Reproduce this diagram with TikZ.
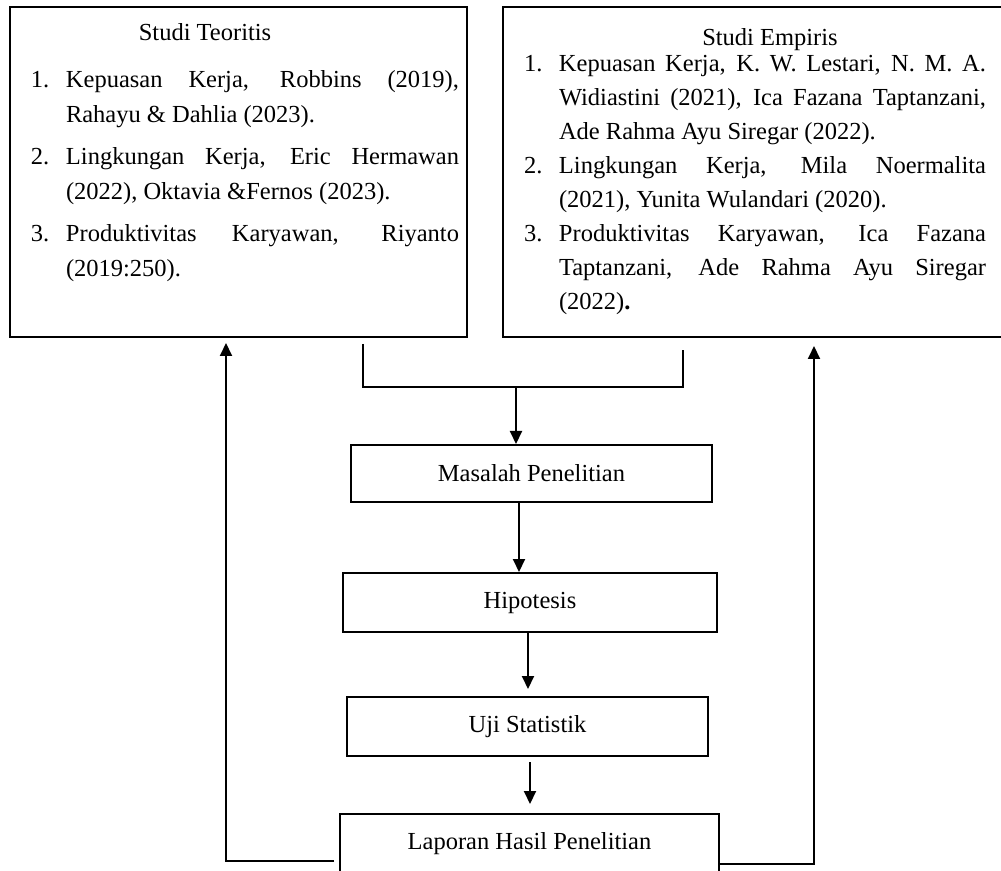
\documentclass[tikz,border=0pt]{standalone}
\usepackage{fontspec}
\setmainfont{Liberation Serif}
\usetikzlibrary{arrows.meta}

\newcommand{\numitem}[1]{\par\noindent\hangindent=17.5pt\hangafter=1\makebox[17.5pt][l]{#1}\ignorespaces}

\begin{document}
\begin{tikzpicture}[x=0.5pt,y=0.5pt,line width=1pt,
		font=\fontsize{12.25}{17.5}\selectfont,
		panel/.style={draw, inner sep=0pt, minimum height=165pt},
		flow/.style={draw, inner sep=0pt, minimum height=29.5pt},
		listtext/.style={anchor=north west, align=justify, inner sep=0pt},
		arr/.style={-{Triangle[length=6.5pt,width=6pt]}}
	]
	\useasboundingbox (0,0) rectangle (1001,-871);
	\clip (0,0) rectangle (1001,-871);
	
	% two study panels
	\node [panel, minimum width=228.5pt] (teori) at (238.5,-172) {};
	\node [panel, minimum width=250.5pt] (empiris) at (753.5,-172) {};
	
	\node [anchor=base] (teorititle) at (205,-41) {Studi Teoritis};
	\node [listtext, text width=214pt] (teorilist) at (30,-45) {\setlength{\parskip}{3.5pt}%
		\numitem{1.}Kepuasan Kerja, Robbins (2019),\linebreak Rahayu \& Dahlia (2023).
		\numitem{2.}Lingkungan Kerja, Eric Hermawan\linebreak (2022), Oktavia \&Fernos (2023).
		\numitem{3.}Produktivitas Karyawan, Riyanto\linebreak (2019:250).\par};
	
	\node [anchor=base] (empiristitle) at (770,-46) {Studi Empiris};
	\node [listtext, text width=231pt, font=\fontsize{12.25}{17}\selectfont] (empirislist) at (523,-37) {%
		\numitem{1.}Kepuasan Kerja, K. W. Lestari, N. M. A.\linebreak Widiastini (2021), Ica Fazana Taptanzani,\linebreak Ade Rahma Ayu Siregar (2022).
		\numitem{2.}Lingkungan Kerja, Mila Noermalita\linebreak (2021), Yunita Wulandari (2020).
		\numitem{3.}Produktivitas Karyawan, Ica Fazana\linebreak Taptanzani, Ade Rahma Ayu Siregar\linebreak (2022)\textbf{.}\par};
	
	% flow
	\node [flow, minimum width=180.5pt, minimum height=28.5pt] (masalah) at (531.5,-473.5) {Masalah Penelitian};
	\node [flow, minimum width=187pt] (hipotesis) at (530,-602.5) {Hipotesis};
	\node [flow, minimum width=180.5pt] (uji) at (527.5,-726.5) {Uji Statistik};
	\node [flow, minimum width=189.5pt] (laporan) at (529.5,-843.5) {Laporan Hasil Penelitian};
	
	\coordinate (bl) at (363,-387);
	\coordinate (br) at (683,-387);
	\coordinate (stem) at (516,-387);
	\draw (bl) ++(0,43) -- (bl) -- (br) -- ++(0,37);
	\draw [arr] (stem) -- (stem |- masalah.north);
	
	\draw [arr] ([xshift=-6.25pt]masalah.south) -- ([xshift=-6.25pt]masalah.south |- hipotesis.north);
	\draw [arr, shorten >=3.5pt] ([xshift=-1pt]hipotesis.south) -- ([xshift=-1pt]hipotesis.south |- uji.north);
	\draw [arr, shorten <=2.5pt, shorten >=4.5pt] ([xshift=1.25pt]uji.south) -- ([xshift=1.25pt]uji.south |- laporan.north);
	
	% feedback to both panels
	\coordinate (fbl) at (226,-861);
	\coordinate (fbr) at (814,-864);
	\draw [arr, shorten <=2.5pt, shorten >=2.5pt] (laporan.west |- fbl) -- (fbl) -- (fbl |- teori.south);
	\draw [arr, shorten >=4pt] (laporan.east |- fbr) -- (fbr) -- (fbr |- empiris.south);
\end{tikzpicture}
\end{document}
